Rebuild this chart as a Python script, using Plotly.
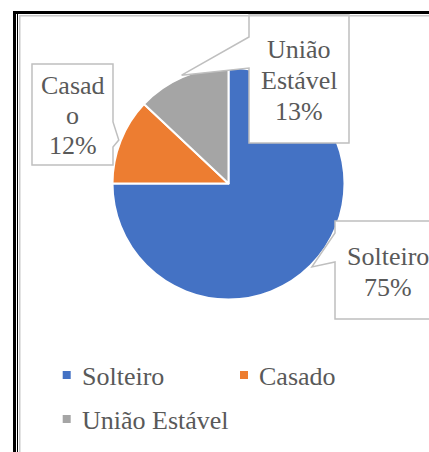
import math
import plotly.graph_objects as go

# ---- data ----
categories = ["Solteiro", "Casado", "União Estável"]
values = [75, 12, 13]
colors = ["#4472C4", "#ED7D31", "#A5A5A5"]
# how each data label wraps inside its callout box
label_lines = [["Solteiro"], ["Casad", "o"], ["União", "Estável"]]

# ---- layout constants (pixels) ----
W, H = 429, 452
CX, CY, R = 228.5, 183.5, 116
FONT = "Liberation Serif, Times New Roman, serif"
TXT = "#595959"
BOXC = "#BFBFBF"
FS = 26


def X(p):
    return p / W


def Y(p):
    return 1 - p / H


total = sum(values)
pct = [round(v / total * 100) for v in values]

fig = go.Figure()
fig.add_trace(go.Pie(
    labels=categories, values=values, sort=False, direction="clockwise", rotation=0,
    marker=dict(colors=colors, line=dict(color="white", width=2)),
    textinfo="none", hoverinfo="label+percent", showlegend=False,
    domain=dict(x=[X(CX - R), X(CX + R)], y=[Y(CY + R), Y(CY - R)]),
))

# tip of each callout pointer: mid-angle of slice on the pie edge
tips = []
cum = 0
for v in values:
    mid = (cum + v / 2) / total * 2 * math.pi
    tips.append((CX + (R + 2) * math.sin(mid), CY - (R + 2) * math.cos(mid)))
    cum += v

callouts = [
    dict(l=335, t=221, r=440, b=319, side="left", a=233, bb=262, ys=[256, 287]),
    dict(l=32, t=64, r=113, b=165, side="right", a=122, bb=147, ys=[86, 116, 146]),
    dict(l=249, t=15, r=349, b=143, side="left", a=37, bb=68, ys=[49, 80, 111]),
]

shapes = []
annotations = []
for i, c in enumerate(callouts):
    tx, ty = tips[i]
    if c["side"] == "left":
        pts = [(c["l"], c["t"]), (c["r"], c["t"]), (c["r"], c["b"]), (c["l"], c["b"]),
               (c["l"], c["bb"]), (tx, ty), (c["l"], c["a"])]
    else:
        pts = [(c["l"], c["t"]), (c["r"], c["t"]), (c["r"], c["a"]), (tx, ty),
               (c["r"], c["bb"]), (c["r"], c["b"]), (c["l"], c["b"])]
    path = "M " + " L ".join(f"{X(x):.5f},{Y(y):.5f}" for x, y in pts) + " Z"
    shapes.append(dict(type="path", xref="paper", yref="paper", path=path,
                       fillcolor="white", line=dict(color=BOXC, width=1.5), layer="above"))
    lines = label_lines[i] + [f"{pct[i]}%"]
    xc = (c["l"] + c["r"]) / 2
    for txt, yy in zip(lines, c["ys"]):
        annotations.append(dict(text=txt, x=X(xc), y=Y(yy), xref="paper", yref="paper",
                                showarrow=False, xanchor="center", yanchor="middle",
                                font=dict(family=FONT, size=FS, color=TXT)))

# ---- legend (manual) ----
leg_pos = [(62.7, 375), (240, 375), (62.7, 419)]
for i, cat in enumerate(categories):
    mx, my = leg_pos[i]
    shapes.append(dict(type="rect", xref="paper", yref="paper",
                       x0=X(mx), x1=X(mx + 8), y0=Y(my + 4), y1=Y(my - 4),
                       fillcolor=colors[i], line=dict(width=0)))
    annotations.append(dict(text=cat, x=X(mx + 17), y=Y(my + 1), xref="paper", yref="paper",
                            showarrow=False, xanchor="left", yanchor="middle",
                            font=dict(family=FONT, size=FS, color=TXT)))


# ---- frame border ----
def rect(x0, y0, x1, y1, col):
    return dict(type="rect", xref="paper", yref="paper", x0=X(x0), x1=X(x1),
                y0=Y(y1), y1=Y(y0), fillcolor=col, line=dict(width=0), layer="above")


shapes += [
    rect(13, 11, W + 5, 14, "black"),
    rect(13, 11, 16, H + 5, "black"),
    rect(17, 14, 18, H + 5, "black"),
    rect(19, 15, 20.5, H + 5, "#C8C8C8"),
    rect(19, 15, W + 5, 16.5, "#C8C8C8"),
]

fig.update_layout(
    width=W, height=H, margin=dict(l=0, r=0, t=0, b=0),
    paper_bgcolor="white", plot_bgcolor="white",
    shapes=shapes, annotations=annotations, showlegend=False,
)
fig.write_html(
    "out.html",
    config={"displayModeBar": False},
    post_script="document.body.style.margin='0';document.body.style.overflow='hidden';",
)
